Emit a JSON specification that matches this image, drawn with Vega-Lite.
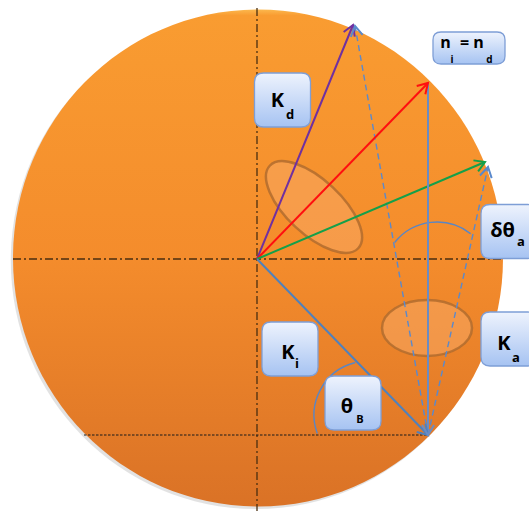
{
  "$schema": "https://vega.github.io/schema/vega-lite/v6.json",
  "width": 529,
  "height": 511,
  "padding": 0,
  "autosize": {"type": "none"},
  "background": "white",
  "config": {"view": {"stroke": null}},
  "datasets": {
    "disc": [{"x": 1, "y": 1}],
    "shadow": [{"x": -1.2, "y": -1.6}],
    "ellipseA": [{"x": 57, "y": 52}],
    "ellipseB": [{"x": 170, "y": -69}],
    "axes": [{"x": -244, "y": 0, "x2": 246, "y2": 0}, {"x": 0, "y": 251, "x2": 0, "y2": -252}],
    "dotted": [{"x": -173, "y": -176, "x2": 171, "y2": -176}],
    "dashed": [{"x": 171, "y": -176, "x2": 98, "y2": 233}, {"x": 171, "y": -176, "x2": 231, "y2": 92}],
    "arcDelta": [{"x": 180, "y": -17}],
    "arcBragg": [{"x": 111, "y": -156}],
    "vectors": [
      {"name": "Kd", "x": 0, "y": 0, "x2": 96, "y2": 234},
      {"name": "K", "x": 0, "y": 0, "x2": 171, "y2": 176},
      {"name": "Kg", "x": 0, "y": 0, "x2": 228, "y2": 97},
      {"name": "Ki", "x": 0, "y": 0, "x2": 171, "y2": -176},
      {"name": "Ka", "x": 171, "y": 176, "x2": 171, "y2": -176}
    ],
    "heads": [
      {"name": "Kd", "x": 96, "y": 234, "heading": 292.3},
      {"name": "K", "x": 171, "y": 176, "heading": 314.2},
      {"name": "Kg", "x": 228, "y": 97, "heading": 337},
      {"name": "Ki", "x": 171, "y": -176, "heading": 45.8},
      {"name": "Ka", "x": 171, "y": -176, "heading": 90},
      {"name": "dash", "x": 98, "y": 233, "heading": 259.9},
      {"name": "dash", "x": 231, "y": 92, "heading": 282.6}
    ],
    "boxes": [{"x": 25.5, "y": 159}, {"x": 33, "y": -90}, {"x": 96, "y": -144}, {"x": 252, "y": -80}, {"x": 252, "y": 27.5}],
    "eqbox": [{"x": 212, "y": 211}],
    "mainText": [
      {"t": "K", "x": 20.5, "y": 152},
      {"t": "K", "x": 31, "y": -100},
      {"t": "θ", "x": 90, "y": -154},
      {"t": "δθ", "x": 245.5, "y": 22},
      {"t": "K", "x": 247, "y": -91}
    ],
    "subText": [
      {"t": "d", "x": 33, "y": 140},
      {"t": "i", "x": 40, "y": -109},
      {"t": "a", "x": 264, "y": 13},
      {"t": "a", "x": 259, "y": -103}
    ],
    "subB": [{"t": "B", "x": 103, "y": -164}],
    "eqMain": [
      {"t": "n", "x": 188.5, "y": 211},
      {"t": "=", "x": 207.5, "y": 211},
      {"t": "n", "x": 221.5, "y": 211}
    ],
    "eqSub": [
      {"t": "i", "x": 195, "y": 196},
      {"t": "d", "x": 232.5, "y": 196}
    ]
  },
  "encoding": {
    "x": {"field": "x", "type": "quantitative", "scale": {"domain": [-257, 272], "nice": false, "zero": false}, "axis": null},
    "y": {"field": "y", "type": "quantitative", "scale": {"domain": [-252, 259], "nice": false, "zero": false}, "axis": null}
  },
  "layer": [
    {
      "data": {"name": "shadow"},
      "mark": {"type": "point", "shape": "M-0.986,0 A0.986,1 0 1,1 0.986,0 A0.986,1 0 1,1 -0.986,0 Z", "size": 247009, "filled": true, "fill": "#a0a0a0", "opacity": 0.3, "strokeWidth": 0}
    },
    {
      "data": {"name": "disc"},
      "mark": {"type": "point", "shape": "M-0.986,0 A0.986,1 0 1,1 0.986,0 A0.986,1 0 1,1 -0.986,0 Z", "size": 247009, "filled": true, "opacity": 1, "strokeWidth": 0,
        "fill": {"gradient": "linear", "x1": 0, "y1": 0, "x2": 0, "y2": 1, "stops": [{"offset": 0, "color": "#FCB84E"}, {"offset": 0.012, "color": "#F99C31"}, {"offset": 0.5, "color": "#F48C2C"}, {"offset": 1, "color": "#DA7226"}]}}
    },
    {
      "data": {"name": "ellipseA"},
      "mark": {"type": "point", "shape": "M-1,0 A1,0.45 0 1,1 1,0 A1,0.45 0 1,1 -1,0 Z", "size": 14641, "angle": 43, "filled": true, "fill": "#F7A862", "fillOpacity": 0.55, "opacity": 1, "stroke": "#B16C2E", "strokeWidth": 2.5, "strokeOpacity": 0.85}
    },
    {
      "data": {"name": "ellipseB"},
      "mark": {"type": "point", "shape": "M-1,0 A1,0.62 0 1,1 1,0 A1,0.62 0 1,1 -1,0 Z", "size": 8100, "filled": true, "fill": "#F7A862", "fillOpacity": 0.55, "opacity": 1, "stroke": "#B16C2E", "strokeWidth": 2.5, "strokeOpacity": 0.85}
    },
    {
      "data": {"name": "axes"},
      "mark": {"type": "rule", "color": "#4A2E10", "strokeWidth": 1.3, "strokeDash": [8, 3, 2, 3]},
      "encoding": {"x2": {"field": "x2"}, "y2": {"field": "y2"}}
    },
    {
      "data": {"name": "dotted"},
      "mark": {"type": "rule", "color": "#1a1a1a", "strokeWidth": 1, "strokeDash": [2.5, 1.5]},
      "encoding": {"x2": {"field": "x2"}, "y2": {"field": "y2"}}
    },
    {
      "data": {"name": "dashed"},
      "mark": {"type": "rule", "color": "#5A89CC", "strokeWidth": 1.4, "strokeDash": [6, 4]},
      "encoding": {"x2": {"field": "x2"}, "y2": {"field": "y2"}}
    },
    {
      "data": {"name": "arcDelta"},
      "mark": {"type": "arc", "radius": 54, "radius2": 53.9, "theta": -0.89, "theta2": 0.66, "filled": false, "stroke": "#5A86C4", "strokeWidth": 1.3}
    },
    {
      "data": {"name": "arcBragg"},
      "mark": {"type": "arc", "radius": 54, "radius2": 53.9, "theta": -1.91, "theta2": -0.25, "filled": false, "stroke": "#5A86C4", "strokeWidth": 1.3}
    },
    {
      "data": {"name": "vectors"},
      "mark": {"type": "rule"},
      "encoding": {
        "x2": {"field": "x2"},
        "y2": {"field": "y2"},
        "color": {"field": "name", "type": "nominal", "scale": {"domain": ["Kd", "K", "Kg", "Ki", "Ka", "dash"], "range": ["#7030A0", "#FF0F0F", "#14A04A", "#4F81BD", "#6A8CC4", "#5A89CC"]}, "legend": null},
        "strokeWidth": {"field": "name", "type": "nominal", "scale": {"domain": ["Kd", "K", "Kg", "Ki", "Ka"], "range": [2, 2, 2, 2, 1.5]}, "legend": null}
      }
    },
    {
      "data": {"name": "heads"},
      "mark": {"type": "point", "shape": "M-1,-0.6 L0,0 L-1,0.6", "size": 400, "filled": false, "opacity": 1, "strokeWidth": 2},
      "encoding": {
        "angle": {"field": "heading", "type": "quantitative", "scale": null},
        "color": {"field": "name", "type": "nominal", "scale": {"domain": ["Kd", "K", "Kg", "Ki", "Ka", "dash"], "range": ["#7030A0", "#FF0F0F", "#14A04A", "#4F81BD", "#6A8CC4", "#5A89CC"]}, "legend": null}
      }
    },
    {
      "data": {"name": "boxes"},
      "mark": {"type": "point", "shape": "M-0.68,-0.964 L0.68,-0.964 Q1,-0.964 1,-0.644 L1,0.644 Q1,0.964 0.68,0.964 L-0.68,0.964 Q-1,0.964 -1,0.644 L-1,-0.644 Q-1,-0.964 -0.68,-0.964 Z", "size": 3136, "filled": true, "opacity": 1, "stroke": "#7E9ED6", "strokeWidth": 1.3,
        "fill": {"gradient": "linear", "x1": 0, "y1": 0, "x2": 0, "y2": 1, "stops": [{"offset": 0, "color": "#EEF3FD"}, {"offset": 1, "color": "#A6C3F2"}]}}
    },
    {
      "data": {"name": "eqbox"},
      "mark": {"type": "point", "shape": "M-0.778,-0.444 L0.778,-0.444 Q1,-0.444 1,-0.222 L1,0.222 Q1,0.444 0.778,0.444 L-0.778,0.444 Q-1,0.444 -1,0.222 L-1,-0.222 Q-1,-0.444 -0.778,-0.444 Z", "size": 5184, "filled": true, "opacity": 1, "stroke": "#7E9ED6", "strokeWidth": 1.3,
        "fill": {"gradient": "linear", "x1": 0, "y1": 0, "x2": 0, "y2": 1, "stops": [{"offset": 0, "color": "#EEF3FD"}, {"offset": 1, "color": "#A6C3F2"}]}}
    },
    {
      "data": {"name": "mainText"},
      "mark": {"type": "text", "font": "Open Sans", "fontWeight": "bold", "fontSize": 20, "align": "center", "baseline": "alphabetic", "color": "#000000"},
      "encoding": {"text": {"field": "t"}}
    },
    {
      "data": {"name": "subText"},
      "mark": {"type": "text", "font": "Open Sans", "fontWeight": "bold", "fontSize": 13, "align": "center", "baseline": "alphabetic", "color": "#000000"},
      "encoding": {"text": {"field": "t"}}
    },
    {
      "data": {"name": "subB"},
      "mark": {"type": "text", "font": "Open Sans", "fontWeight": "bold", "fontSize": 11, "align": "center", "baseline": "alphabetic", "color": "#000000"},
      "encoding": {"text": {"field": "t"}}
    },
    {
      "data": {"name": "eqMain"},
      "mark": {"type": "text", "font": "Open Sans", "fontWeight": "bold", "fontSize": 16, "align": "center", "baseline": "alphabetic", "color": "#000000"},
      "encoding": {"text": {"field": "t"}}
    },
    {
      "data": {"name": "eqSub"},
      "mark": {"type": "text", "font": "Open Sans", "fontWeight": "bold", "fontSize": 10, "align": "center", "baseline": "alphabetic", "color": "#000000"},
      "encoding": {"text": {"field": "t"}}
    }
  ]
}
